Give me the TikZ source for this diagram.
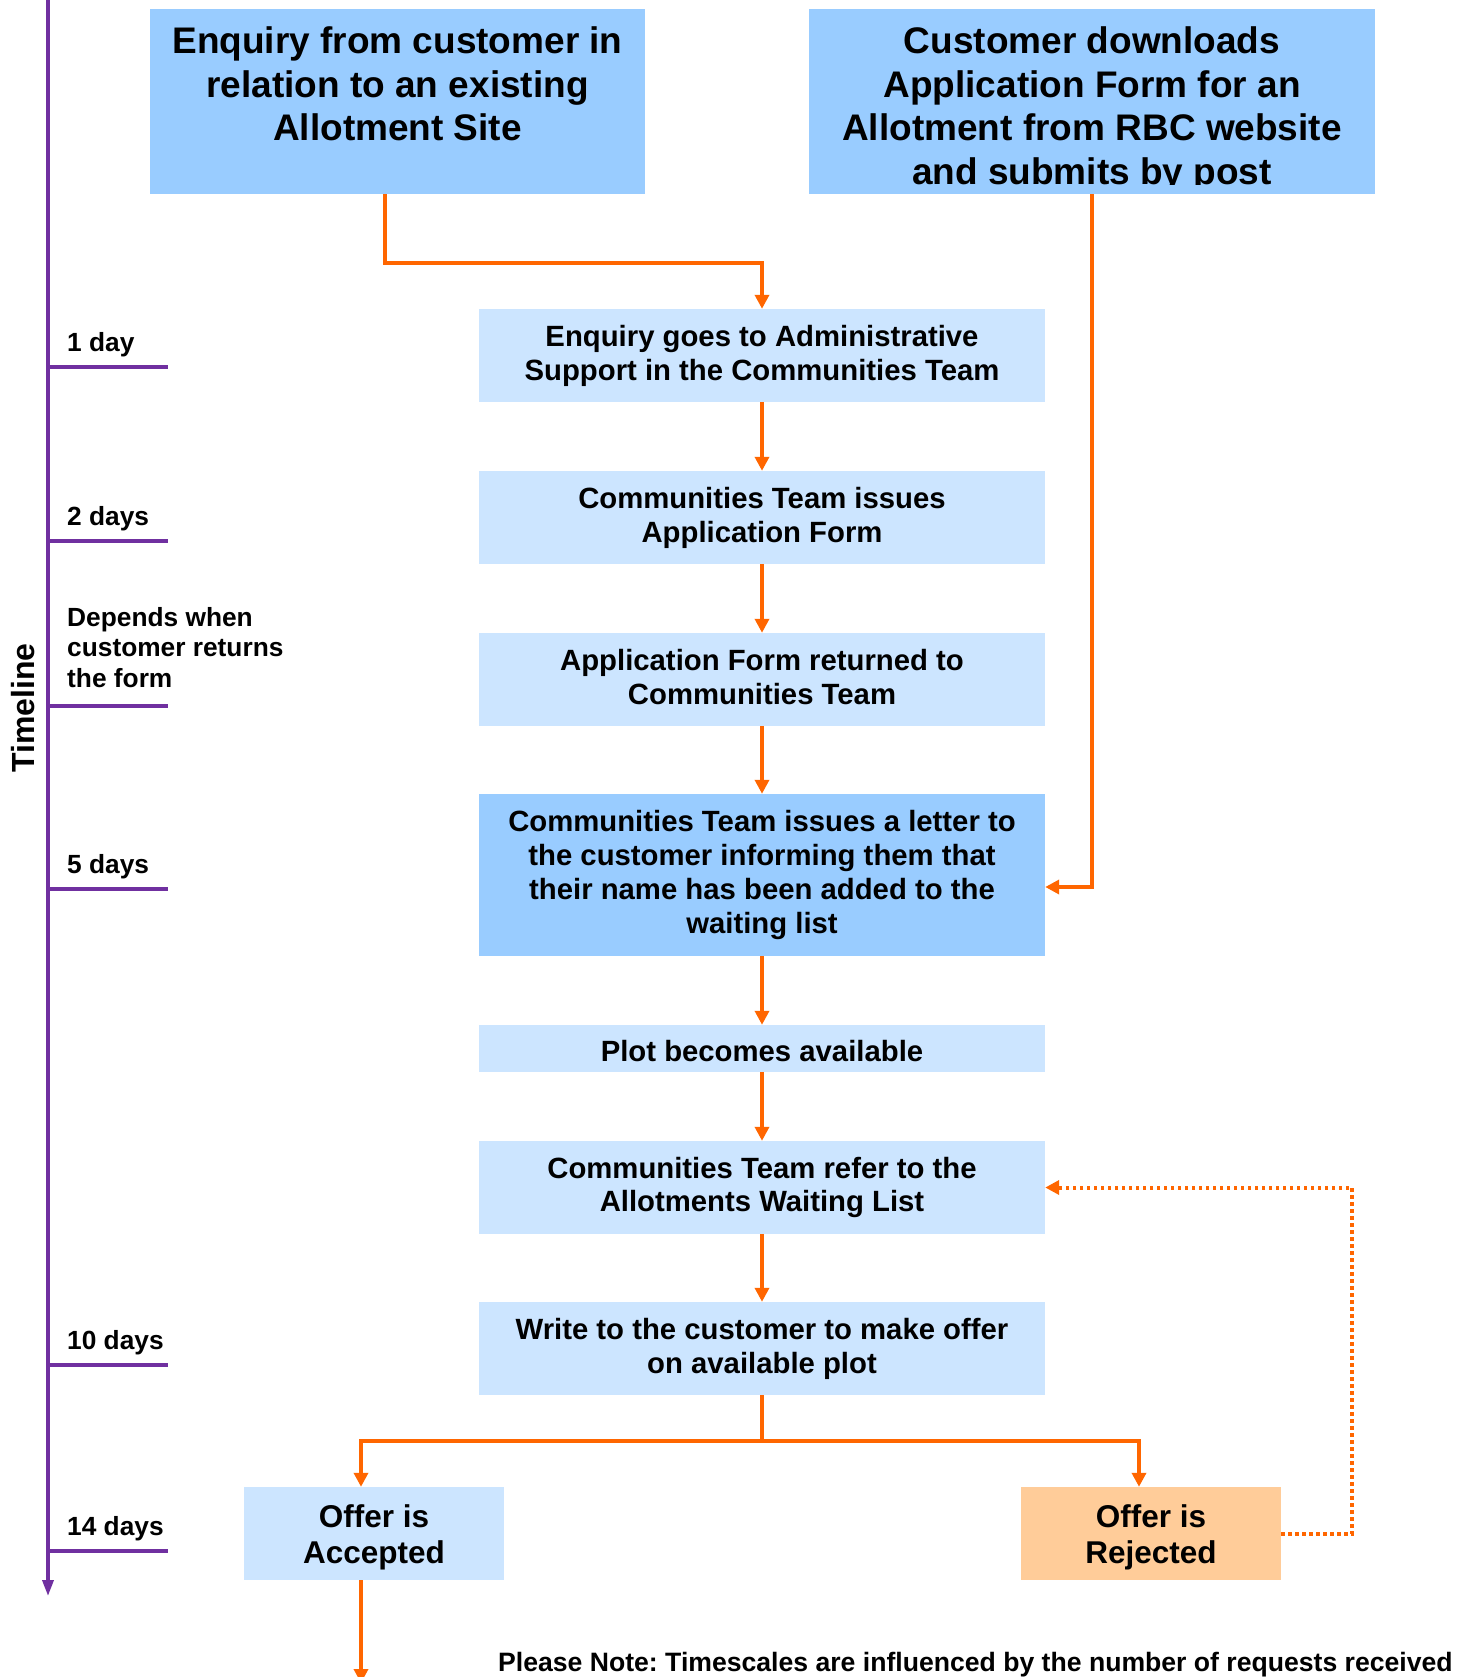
\documentclass[tikz,border=0pt]{standalone}
\usepackage{fontspec}
\setmainfont{Liberation Sans}
\frenchspacing
\usetikzlibrary{arrows.meta}
\definecolor{darkbox}{HTML}{99CCFF}
\definecolor{lightbox}{HTML}{CCE5FF}
\definecolor{rejectbox}{HTML}{FFCC99}
\definecolor{flowline}{HTML}{FF6600}
\definecolor{timeline}{HTML}{7030A0}

\begin{document}
\begin{tikzpicture}[x=1pt, y=-1pt,
                    every node/.style = {shape=rectangle, align=center,
                    inner sep=0pt, font=\bfseries},
                    topbox/.style = {fill=darkbox, minimum height=185pt},
                    toptext/.style = {anchor=north, yshift=-18pt,
                    font=\bfseries\fontsize{37}{43.4}\selectfont},
                    stage/.style = {fill=lightbox, minimum width=566pt,
                    minimum height=93pt,
                    font=\bfseries\fontsize{29.3}{33.9}\selectfont},
                    outcome/.style = {fill=lightbox, minimum width=260pt,
                    minimum height=93pt,
                    font=\bfseries\fontsize{31.5}{36.4}\selectfont},
                    daylabel/.style = {anchor=base west, align=left,
                    font=\bfseries\fontsize{26.3}{30.5}\selectfont},
                    flow/.style = {draw=flowline, line width=3.5pt,
                    -{Triangle[length=14pt,width=14pt]}},
                    flowdot/.style = {flow, line width=4pt,
                    dash pattern=on 3.5pt off 3.5pt},
                    tick/.style = {draw=timeline, line width=3.5pt}]
  \useasboundingbox (0,0) rectangle (1473,1677);
  \clip (0,0) rectangle (1473,1677);

  % timeline
  \coordinate (axtop) at (48,0);
  \coordinate (axend) at (48,1596);
  \draw[timeline, line width=3.5pt, -{Triangle[length=16pt,width=11pt]}] (axtop) -- (axend);
  \node[rotate=90, font=\bfseries\fontsize{32}{38}\selectfont] (timelabel) at (23,708) {Timeline};
  \foreach \y in {367, 541, 706, 889, 1365, 1551}
    \draw[tick] (48,\y) -- (168,\y);
  \foreach \y/\lbl in {367/1 day, 541/2 days, 889/5 days, 1365/10 days, 1551/14 days}
    \node[daylabel] (day\y) at (67,\y-16) {\lbl};
  \node[daylabel, anchor=north west] (dayform) at (67,607)
    {Depends when\\customer returns\\the form};

  % top boxes
  \node[topbox, minimum width=495pt] (enquiry) at (397.5,101.5) {};
  \node[toptext] (enquirytext) at (enquiry.north)
    {Enquiry from customer in\\relation to an existing\\Allotment Site};
  \node[topbox, minimum width=566pt] (download) at (1092,101.5) {};
  \begin{scope}
    \clip (download.north west) rectangle ([yshift=10pt]download.south east);
    \node[toptext] (downloadtext) at (download.north)
      {Customer downloads\\Application Form for an\\Allotment from RBC website\\and submits by post};
  \end{scope}

  % stages
  \node[stage] (admin) at (762,355.5)
    {Enquiry goes to Administrative\\Support in the Communities Team};
  \node[stage] (issue) at (762,517.5)
    {Communities Team issues\\Application Form};
  \node[stage] (returned) at (762,679.5)
    {Application Form returned to\\Communities Team\rule[-6pt]{0pt}{6pt}};
  \node[stage, fill=darkbox, minimum height=162pt] (letter) at (762,875)
    {Communities Team issues a letter to\\the customer informing them that\\their name has been added to the\\waiting list};
  \node[stage, minimum height=47pt] (plot) at (762,1048.5)
    {\rule{0pt}{27pt}Plot becomes available};
  \node[stage] (refer) at (762,1187.5)
    {Communities Team refer to the\\Allotments Waiting List};
  \node[stage] (offer) at (762,1348.5)
    {Write to the customer to make offer\\on available plot};
  \node[outcome] (accepted) at (374,1533.5) {\rule{0pt}{30pt}Offer is\\Accepted};
  \node[outcome, fill=rejectbox] (rejected) at (1151,1533.5) {\rule{0pt}{30pt}Offer is\\Rejected};

  \node[anchor=base west, font=\bfseries\fontsize{26.6}{31}\selectfont] (note) at (498,1671)
    {Please Note: Timescales are influenced by the number of requests received};

  % connectors
  \draw[flow] ([xshift=-12.5pt]enquiry.south) -- ++(0,69) -| (admin.north);
  \draw[flow] (download.south) |- ([yshift=-12pt]letter.east);
  \foreach \a/\b in {admin/issue, issue/returned, returned/letter, letter/plot,
                     plot/refer, refer/offer}
    \draw[flow] (\a) -- (\b);
  \coordinate (split) at (762,1441);
  \draw[draw=flowline, line width=3.5pt] (offer.south) -- (split);
  \draw[flow] (split) -| ([xshift=-13pt]accepted.north);
  \draw[flow] (split) -| ([xshift=-12pt]rejected.north);
  \coordinate (nextstep) at (361,1683);
  \draw[flow] ([xshift=-13pt]accepted.south) -- (nextstep);
  \draw[flowdot] (rejected.east) -- ++(71,0) |- (refer.east);
\end{tikzpicture}
\end{document}
